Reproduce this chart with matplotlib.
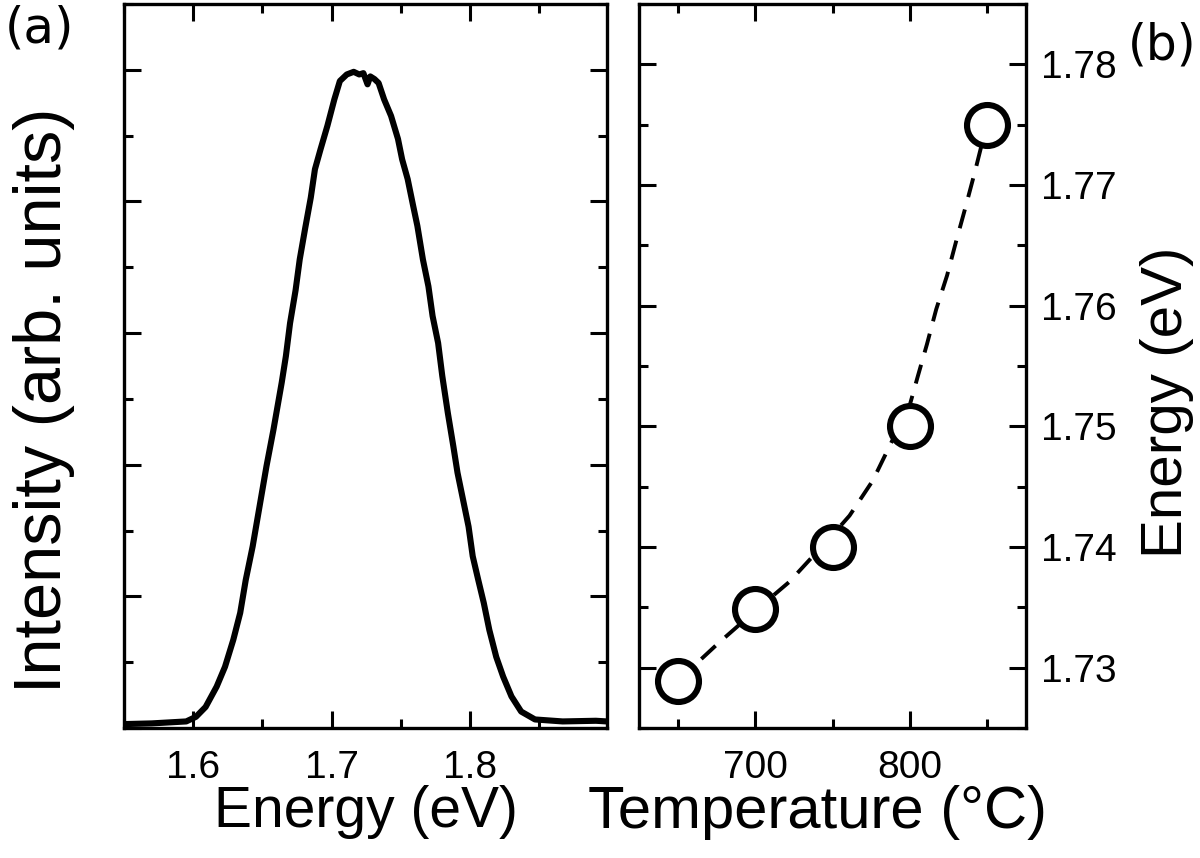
import numpy as np
import matplotlib
matplotlib.use('Agg')
import matplotlib.pyplot as plt
from matplotlib.ticker import MultipleLocator

plt.rcParams['font.family'] = ['Liberation Sans', 'DejaVu Sans']

# (a) PL spectrum (normalised intensity)
energy = [1.551, 1.570, 1.595, 1.602, 1.609, 1.617, 1.623, 1.629, 1.634, 1.638,
          1.643, 1.648, 1.653, 1.658, 1.664, 1.667, 1.670, 1.674, 1.677, 1.681,
          1.685, 1.688, 1.692, 1.697, 1.702, 1.706, 1.711, 1.716, 1.720, 1.723,
          1.726, 1.728, 1.731, 1.734, 1.738, 1.743, 1.748, 1.751, 1.755, 1.759,
          1.762, 1.766, 1.770, 1.773, 1.777, 1.780, 1.784, 1.788, 1.791, 1.795,
          1.799, 1.802, 1.806, 1.810, 1.814, 1.819, 1.824, 1.830, 1.837, 1.847,
          1.867, 1.891, 1.899]
intensity = [0.006, 0.007, 0.010, 0.017, 0.032, 0.063, 0.093, 0.134, 0.175, 0.225,
             0.276, 0.337, 0.398, 0.453, 0.525, 0.565, 0.615, 0.665, 0.712, 0.760,
             0.806, 0.849, 0.879, 0.915, 0.955, 0.983, 0.993, 0.997, 0.993, 0.995,
             0.978, 0.990, 0.986, 0.980, 0.955, 0.930, 0.895, 0.864, 0.834, 0.793,
             0.763, 0.712, 0.671, 0.626, 0.585, 0.535, 0.479, 0.428, 0.388, 0.347,
             0.306, 0.261, 0.225, 0.190, 0.149, 0.108, 0.078, 0.048, 0.025, 0.013,
             0.010, 0.011, 0.010]

# (b) peak energy vs growth temperature
temperature = [650, 700, 750, 800, 850]
peak_energy = [1.7289, 1.7349, 1.7400, 1.7500, 1.7750]

# dashed guide curve
fit_t = [650, 676, 700, 722, 750, 761, 776, 787, 800, 805, 811, 817, 824, 830, 836, 842, 850]
fit_e = [1.7289, 1.7320, 1.7347, 1.7371, 1.7410, 1.7426, 1.7455, 1.7484, 1.7518, 1.7541,
         1.7568, 1.7597, 1.7625, 1.7654, 1.7682, 1.7711, 1.7752]

fig = plt.figure(figsize=(12, 8.58), dpi=100)
ax1 = fig.add_axes([0.1033, 0.1515, 0.4025, 0.8438])
ax2 = fig.add_axes([0.5325, 0.1515, 0.3225, 0.8438])

for ax in (ax1, ax2):
    for sp in ax.spines.values():
        sp.set_linewidth(2.4)
    ax.tick_params(which='both', direction='in', top=True, bottom=True,
                   left=True, right=True, width=2.2, labelsize=28, pad=16)
    ax.tick_params(which='major', length=12)
    ax.tick_params(which='minor', length=6.5)

ax1.plot(energy, intensity, color='black', lw=4.4)
ax1.set_xlim(1.55, 1.899)
ax1.set_ylim(0, 1.1)
ax1.xaxis.set_major_locator(MultipleLocator(0.1))
ax1.xaxis.set_minor_locator(MultipleLocator(0.05))
ax1.yaxis.set_major_locator(MultipleLocator(0.2))
ax1.yaxis.set_minor_locator(MultipleLocator(0.1))
ax1.set_yticklabels([])
ax1.xaxis.set_major_formatter(plt.FuncFormatter(lambda v, p: '%.1f' % v))
ax1.set_xlabel('Energy (eV)', fontsize=41, labelpad=-1)
ax1.set_ylabel('Intensity (arb. units)', fontsize=48)
ax1.yaxis.set_label_coords(-0.101, 0.453)

ax2.plot(fit_t, fit_e, color='black', lw=2.8, linestyle=(0, (5, 3.3)))
ax2.plot(temperature, peak_energy, 'o', ms=29.5, mfc='white', mec='black', mew=4.4)
ax2.set_xlim(625, 875)
ax2.set_ylim(1.725, 1.785)
ax2.xaxis.set_major_locator(MultipleLocator(100))
ax2.xaxis.set_minor_locator(MultipleLocator(50))
ax2.yaxis.set_major_locator(MultipleLocator(0.01))
ax2.yaxis.set_minor_locator(MultipleLocator(0.005))
ax2.yaxis.set_major_formatter(plt.FuncFormatter(lambda v, p: '%.2f' % v))
ax2.tick_params(axis='y', labelleft=False, labelright=True, pad=11)
ax2.yaxis.set_label_position('right')
ax2.set_xlabel('Temperature (\u00b0C)', fontsize=43, labelpad=-1)
ax2.xaxis.label.set_x(0.46)
ax2.set_ylabel('Energy (eV)', fontsize=42)
ax2.yaxis.set_label_coords(1.295, 0.45)

fig.text(0.004, 0.995, '(a)', fontsize=36, va='top', ha='left', family='DejaVu Sans')
fig.text(0.94, 0.975, '(b)', fontsize=35, va='top', ha='left', family='DejaVu Sans')

fig.savefig('out.png', dpi=100)
